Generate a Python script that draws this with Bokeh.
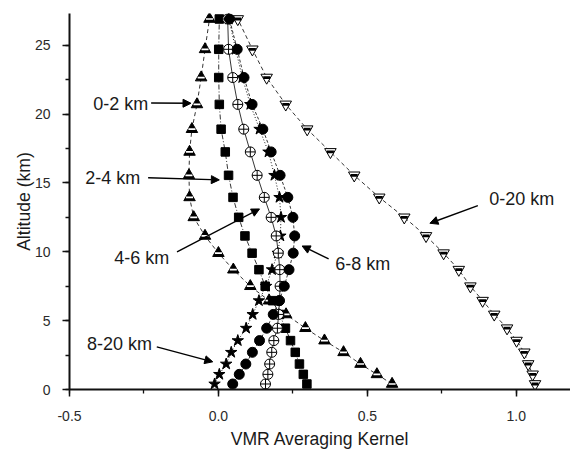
from bokeh.plotting import figure
from bokeh.models import (Range1d, SingleIntervalTicker, PrintfTickFormatter,
                          Arrow, NormalHead, Label)
from bokeh.embed import file_html
from bokeh.resources import INLINE

# ---- data ----
alt_km = [0.4, 1.1, 1.85, 2.7, 3.55, 4.45, 5.45, 6.45, 7.5, 8.7, 9.9,
          11.15, 12.5, 13.95, 15.55, 17.25, 18.9, 20.7, 22.65, 24.7, 26.9]
k_0_20 = [1.063, 1.055, 1.040, 1.027, 1.001, 0.969, 0.926, 0.887, 0.846, 0.807, 0.756,
          0.697, 0.624, 0.540, 0.456, 0.376, 0.298, 0.226, 0.162, 0.114, 0.065]
k_0_2 = [0.583, 0.532, 0.477, 0.420, 0.356, 0.292, 0.227, 0.170, 0.107, 0.050, 0.000,
         -0.045, -0.083, -0.097, -0.099, -0.097, -0.089, -0.072, -0.058, -0.045, -0.030]
k_2_4 = [0.297, 0.285, 0.272, 0.258, 0.242, 0.225, 0.205, 0.182, 0.157, 0.136, 0.113,
         0.089, 0.068, 0.049, 0.034, 0.023, 0.009, 0.003, 0.001, 0.001, 0.003]
k_4_6 = [0.158, 0.166, 0.172, 0.179, 0.186, 0.198, 0.202, 0.205, 0.207, 0.206, 0.201,
         0.194, 0.177, 0.154, 0.130, 0.107, 0.085, 0.065, 0.048, 0.034, 0.031]
k_6_8 = [0.048, 0.070, 0.092, 0.114, 0.138, 0.162, 0.184, 0.204, 0.221, 0.237, 0.251,
         0.256, 0.250, 0.233, 0.207, 0.177, 0.149, 0.113, 0.086, 0.063, 0.037]
k_8_20 = [-0.013, 0.003, 0.026, 0.043, 0.065, 0.093, 0.115, 0.136, 0.160, 0.180, 0.199,
          0.208, 0.210, 0.205, 0.188, 0.168, 0.138, 0.107, 0.080, 0.058, 0.035]

x_ticks = [-0.5, 0.0, 0.5, 1.0]
y_ticks = [0, 5, 10, 15, 20, 25]

# annotation labels: (text, label x, label y, arrow x0, y0, x1, y1)
notes = [
    ("0-2 km", -0.420, 20.75, -0.226, 20.80, -0.092, 20.78),
    ("2-4 km", -0.447, 15.37, -0.236, 15.37, 0.003, 15.22),
    ("4-6 km", -0.350, 9.57, -0.139, 10.00, 0.138, 13.11),
    ("6-8 km", 0.392, 9.11, 0.370, 9.48, 0.281, 10.42),
    ("0-20 km", 0.909, 13.84, 0.871, 13.35, 0.710, 12.07),
    ("8-20 km", -0.441, 3.29, -0.207, 3.10, -0.019, 2.01),
]

FONT = "Liberation Sans"

p = figure(width=570, height=451, output_backend="svg", toolbar_location=None,
           x_range=Range1d(-0.5, 1.182), y_range=Range1d(0, 27.3),
           min_border_left=69, min_border_right=0, min_border_top=13,
           min_border_bottom=61)
p.outline_line_color = None
p.grid.visible = False
p.background_fill_color = "white"

# lines
p.line(k_0_20, alt_km, line_color="black", line_width=0.8, line_dash="4 3")
p.line(k_0_2, alt_km, line_color="black", line_width=0.8, line_dash="4 3")
p.line(k_2_4, alt_km, line_color="black", line_width=0.8, line_dash="5 2 1 2")
p.line(k_4_6, alt_km, line_color="black", line_width=0.8)
p.line(k_6_8, alt_km, line_color="black", line_width=0.8, line_dash="3 2")
p.line(k_8_20, alt_km, line_color="black", line_width=0.9, line_dash="1 2")

# markers
# 0-20 km: inverted triangle, top band black
p.scatter(k_0_20, alt_km, marker="inverted_triangle", size=11.5,
          fill_color="white", line_color="black", line_width=1)
p.scatter(k_0_20, alt_km, marker="dash", size=7, line_color="black", line_width=2.8)
# 0-2 km: triangle, black with white lower band
p.scatter(k_0_2, alt_km, marker="triangle", size=11.5,
          fill_color="black", line_color="black", line_width=1)
p.scatter(k_0_2, alt_km, marker="dash", size=7, line_color="white", line_width=1.7)
# 2-4 km: squares
p.scatter(k_2_4, alt_km, marker="square", size=8.5, fill_color="black", line_color="black")
# 8-20 km: stars
p.scatter(k_8_20, alt_km, marker="star", size=12, fill_color="black", line_color="black")
# 4-6 km: circle with cross
p.scatter(k_4_6, alt_km, marker="circle_cross", size=10,
          fill_color="white", line_color="black", line_width=1)
# 6-8 km: filled circles
p.scatter(k_6_8, alt_km, marker="circle", size=10, fill_color="black", line_color="black")

# annotations
for text, lx, ly, x0, y0, x1, y1 in notes:
    p.add_layout(Label(x=lx, y=ly, text=text, text_font=FONT, text_font_size="18px",
                       text_color="#1a1a1a", text_baseline="middle", text_align="left"))
    p.add_layout(Arrow(x_start=x0, y_start=y0, x_end=x1, y_end=y1,
                       line_color="black", line_width=1.4,
                       end=NormalHead(size=8, fill_color="black", line_color="black")))

# axes
xt = SingleIntervalTicker(interval=0.5, num_minor_ticks=2)
yt = SingleIntervalTicker(interval=5, num_minor_ticks=2)
p.xaxis.ticker = xt
p.yaxis.ticker = yt
p.xaxis.formatter = PrintfTickFormatter(format="%.1f")
p.xaxis.axis_label = "VMR Averaging Kernel"
p.yaxis.axis_label = "Altitude (km)"
for ax in (p.xaxis, p.yaxis):
    ax.axis_line_width = 2
    ax.axis_line_color = "#111111"
    ax.major_tick_line_width = 1.5
    ax.major_tick_line_color = "#111111"
    ax.minor_tick_line_width = 1.3
    ax.minor_tick_line_color = "#111111"
    ax.major_tick_in = 0
    ax.major_tick_out = 7
    ax.minor_tick_in = 0
    ax.minor_tick_out = 4
    ax.major_label_text_font = FONT
    ax.major_label_text_font_size = "14px"
    ax.major_label_text_color = "#2a2a2a"
    ax.axis_label_text_font = FONT
    ax.axis_label_text_font_size = "17.6px"
    ax.axis_label_text_font_style = "normal"
    ax.axis_label_text_color = "#1a1a1a"
p.xaxis.major_label_standoff = 14
p.yaxis.major_label_standoff = 12
p.xaxis.axis_label_standoff = 5
p.yaxis.axis_label_standoff = -2

open("out.html", "w").write(file_html(p, INLINE))
